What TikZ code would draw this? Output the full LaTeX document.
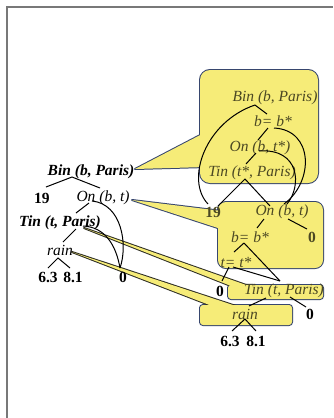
\documentclass[tikz,border=0pt]{standalone}
\usepackage{fontspec}
\setmainfont{Liberation Serif}
\definecolor{calloutyellow}{RGB}{246,236,120}
\definecolor{boxline}{RGB}{55,70,110}
\definecolor{ribline}{RGB}{45,45,35}
\definecolor{olivetext}{RGB}{75,72,35}
\definecolor{framegray}{RGB}{120,120,120}
\begin{document}
\begin{tikzpicture}[x=1pt,y=-1pt,
  bi/.style={inner sep=0pt, font=\fontsize{15.5}{17}\selectfont\bfseries\itshape},
  it/.style={inner sep=0pt, font=\fontsize{15.5}{17}\selectfont\itshape},
  num/.style={inner sep=0pt, font=\fontsize{15.5}{17}\selectfont\bfseries},
  ol/.style={text=olivetext},
  edge/.style={draw=black, line width=1pt},
  outl/.style={draw=boxline, line width=2pt, line join=round},
  routl/.style={draw=ribline, line width=2pt, line join=round},
  yfill/.style={fill=calloutyellow}]

\useasboundingbox (0,0) rectangle (333,418);
\fill[white] (0,0) rectangle (333,418);
\draw[framegray, line width=1.6pt] (7,418) -- (7,7) -- (333,7);

% ---- callout outlines (union trick) ----
\path[outl, rounded corners=10pt] (200,70) rectangle (318,183);
\path[outl] (135,169) -- (206,132) -- (206,167) -- cycle;
\path[outl, rounded corners=8pt] (218,202) rectangle (323,268);
\path[outl] (132,200) -- (222,211) -- (224,230) -- cycle;
\path[outl, rounded corners=3pt] (228,285) rectangle (323,299);
\path[routl] (84,228) -- (231,286) -- (249,286) -- cycle;
\path[outl, rounded corners=3pt] (200,305) rectangle (292,325);
\path[routl] (72,252) -- (212,306) -- (236,306) -- cycle;
% ---- fills ----
\path[yfill, rounded corners=10pt] (200,70) rectangle (318,183);
\path[yfill] (135,169) -- (206,132) -- (206,167) -- cycle;
\path[yfill, rounded corners=8pt] (218,202) rectangle (323,268);
\path[yfill] (132,200) -- (222,211) -- (224,230) -- cycle;
\path[yfill, rounded corners=3pt] (228,285) rectangle (323,299);
\path[yfill] (84,228) -- (231,286) -- (249,286) -- cycle;
\path[yfill, rounded corners=3pt] (200,305) rectangle (292,325);
\path[yfill] (72,252) -- (212,306) -- (236,306) -- cycle;

% ---- left tree ----
\node[bi] (LBin) at (91,172) {Bin (b, Paris)};
\node[num] (L19) at (42,198) {19};
\node[it] (LOn) at (103,198) {On (b, t)};
\node[bi] (LTin) at (60,223) {Tin (t, Paris)};
\node[it] (Lrain) at (60,250) {rain};
\node[num] (L63) at (48,277) {6.3};
\node[num] (L81) at (73,277) {8.1};
\node[num] (L0) at (123,277) {0};

\coordinate (la) at (72,177);
\coordinate (l19t) at (46,187);
\coordinate (lOnt) at (100,188);
\coordinate (lOnb) at (89,203);
\coordinate (lTint) at (76,213);
\coordinate (lOnc) at (92,201);
\coordinate (l0t) at (120,268);
\coordinate (lTinc) at (83,226);
\coordinate (lTinb) at (76,229);
\coordinate (lraint) at (63,242);
\coordinate (lrainb) at (58,258);
\coordinate (l63t) at (48,268);
\coordinate (l81t) at (70,268);

\draw[edge] (l19t) -- (la) -- (lOnt);
\draw[edge] (lOnb) -- (lTint);
\draw[edge] (lOnc) .. controls (122,204) and (128,245) .. (l0t);
\draw[edge] (lTinc) .. controls (105,227) and (116,245) .. (l0t);
\draw[edge] (lTinb) -- (lraint);
\draw[edge] (l63t) -- (lrainb) -- (l81t);

% ---- upper callout tree ----
\node[it, ol] (UBin) at (275,98) {Bin (b, Paris)};
\node[it, ol] (Ubb) at (273,121) {b= b*};
\node[it, ol] (UOn) at (260,148) {On (b, t*)};
\node[it, ol] (UTin) at (252,173) {Tin (t*, Paris)};

% ---- lower callout tree ----
\node[num, ol] (R19) at (213,212) {19};
\node[it, ol] (ROn) at (282,212) {On (b, t)};
\node[it, ol] (Rbb) at (250,237) {b= b*};
\node[num, ol] (R0a) at (312,237) {0};
\node[it, ol] (Rtt) at (236,262) {t= t*};
\node[num] (R0b) at (220,291) {0};
\node[it, ol] (RTin) at (284,291) {Tin (t, Paris)};
\node[num] (R0c) at (310,314) {0};
\node[it, ol] (Rrain) at (245,314) {rain};
\node[num] (R63) at (230,341) {6.3};
\node[num] (R81) at (256,341) {8.1};

\coordinate (ua) at (255,105);
\coordinate (ubt) at (267,114);
\coordinate (r19t) at (208,204);
\coordinate (ubbl) at (268,128);
\coordinate (uOnt) at (258,140);
\coordinate (ubbr) at (274,128);
\coordinate (rOnt) at (284,204);
\coordinate (uOnb) at (256,153);
\coordinate (uTint) at (246,164);
\coordinate (uOnr) at (259,151);
\coordinate (rOnt2) at (287,204);
\coordinate (ut) at (245,179);
\coordinate (r19r) at (218,206);
\coordinate (rOnl) at (270,206);
\coordinate (rOnbl) at (264,219);
\coordinate (rbbt) at (257,228);
\coordinate (rOnbr) at (288,219);
\coordinate (r0at) at (307,229);
\coordinate (rbbb) at (244,243);
\coordinate (rttt) at (234,252);
\coordinate (rTinA) at (280,281);
\coordinate (rttb) at (229,267);
\coordinate (r0bt) at (222,281);
\coordinate (rttr) at (233,267);
\coordinate (rtinbl) at (266,298);
\coordinate (rraint) at (249,306);
\coordinate (rtinbr) at (290,297);
\coordinate (r0ct) at (306,307);
\coordinate (rrainb) at (245,319);
\coordinate (r63t) at (232,331);
\coordinate (r81t) at (256,331);

\draw[edge] (ua) -- (ubt);
\draw[edge] (ua) .. controls (205,122) and (185,180) .. (r19t);
\draw[edge] (ubbl) -- (uOnt);
\draw[edge] (ubbr) .. controls (314,130) and (314,182) .. (rOnt);
\draw[edge] (uOnb) -- (uTint);
\draw[edge] (uOnr) .. controls (300,148) and (302,186) .. (rOnt2);
\draw[edge] (r19r) -- (ut) -- (rOnl);
\draw[edge] (rOnbl) -- (rbbt);
\draw[edge] (rOnbr) -- (r0at);
\draw[edge] (rbbb) -- (rttt);
\draw[edge] (rbbb) -- (rTinA);
\draw[edge] (rttb) -- (r0bt);
\draw[edge] (rttr) -- (rTinA);
\draw[edge] (rtinbl) -- (rraint);
\draw[edge] (rtinbr) -- (r0ct);
\draw[edge] (r63t) -- (rrainb) -- (r81t);
\end{tikzpicture}
\end{document}
